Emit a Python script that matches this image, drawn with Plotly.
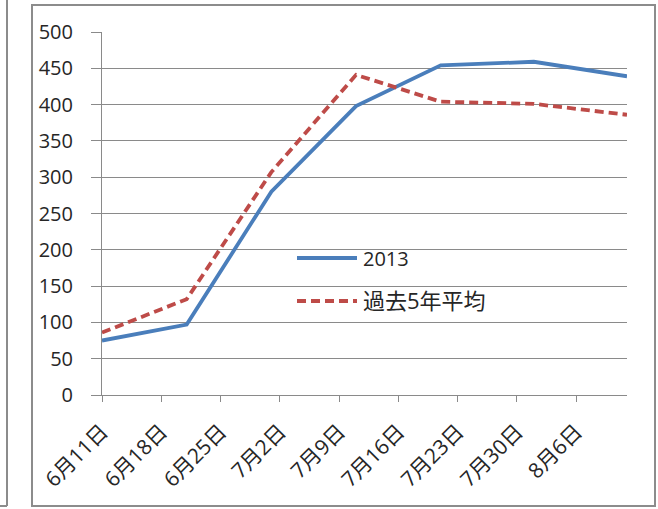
import plotly.graph_objects as go

# Weekly observation dates and values
dates = ["2013-06-11", "2013-06-21", "2013-07-01", "2013-07-11",
         "2013-07-21", "2013-08-01", "2013-08-12"]
values_2013 = [75, 97, 280, 398, 454, 459, 439]
values_avg5 = [86, 132, 307, 441, 404, 401, 386]

series_names = ["2013", "過去5年平均"]
x_range = ["2013-06-11", "2013-08-12"]
y_ticks = list(range(0, 501, 50))

W, H = 658, 509
L, R, T, B = 102, 31, 32, 114
PW, PH = W - L - R, H - T - B

FONT = "Open Sans, Noto Sans CJK JP, sans-serif"
TXT = "#262626"
GRID = "#8a8a8a"
BLUE = "#4a7ebb"
RED = "#be4b48"


def px(x):
    return (x - L) / PW


def py(y):
    return (H - B - y) / PH


fig = go.Figure()
fig.add_trace(go.Scatter(x=dates, y=values_2013, mode="lines", name=series_names[0],
                         line=dict(color=BLUE, width=3.8), showlegend=False))
fig.add_trace(go.Scatter(x=dates, y=values_avg5, mode="lines", name=series_names[1],
                         line=dict(color=RED, width=3.8, dash="9px,5px"),
                         showlegend=False))

shapes = [
    # chart frame
    dict(type="rect", xref="paper", yref="paper", x0=px(32), x1=px(655),
         y0=py(506), y1=py(5), line=dict(color="#8c8c8c", width=2)),
    # edge of the neighbouring frame on the left
    dict(type="line", xref="paper", yref="paper", x0=px(7), x1=px(7),
         y0=py(0), y1=py(506), line=dict(color="#8c8c8c", width=2)),
    dict(type="line", xref="paper", yref="paper", x0=px(0), x1=px(7),
         y0=py(506), y1=py(506), line=dict(color="#8c8c8c", width=2)),
    # legend samples
    dict(type="line", xref="paper", yref="paper", x0=px(297), x1=px(357),
         y0=py(258), y1=py(258), line=dict(color=BLUE, width=3.8)),
    dict(type="line", xref="paper", yref="paper", x0=px(297), x1=px(357),
         y0=py(301), y1=py(301), line=dict(color=RED, width=3.8, dash="9px,5px")),
]

annotations = [
    dict(text=series_names[0], xref="paper", yref="paper", x=px(361), y=py(258),
         xanchor="left", yanchor="middle", showarrow=False,
         font=dict(family=FONT, size=20, color=TXT)),
    dict(text=series_names[1], xref="paper", yref="paper", x=px(361), y=py(300),
         xanchor="left", yanchor="middle", showarrow=False,
         font=dict(family=FONT, size=22, color=TXT)),
]

fig.update_layout(
    width=W, height=H,
    margin=dict(l=L, r=R, t=T, b=B, pad=0),
    paper_bgcolor="white", plot_bgcolor="white",
    font=dict(family=FONT, size=19, color=TXT),
    shapes=shapes, annotations=annotations,
    showlegend=False,
)

fig.update_xaxes(
    type="date", range=x_range,
    tick0="2013-06-11", dtick=7 * 24 * 3600 * 1000,
    tickformat="%-m月%-d日", tickangle=-45,
    showgrid=False, showline=True, linecolor=GRID, linewidth=1,
    ticks="outside", ticklen=6, tickcolor=GRID, tickwidth=1,
    ticklabelstandoff=9,
    tickfont=dict(family=FONT, size=21, color=TXT),
    zeroline=False,
)
fig.update_yaxes(
    range=[0, 500], tickvals=y_ticks,
    showgrid=True, gridcolor=GRID, gridwidth=1,
    showline=True, linecolor=GRID, linewidth=1,
    ticks="outside", ticklen=10, tickcolor=GRID, tickwidth=1,
    ticklabelstandoff=14,
    tickfont=dict(family=FONT, size=20, color=TXT),
    zeroline=False,
)

fig.write_html("out.html")
